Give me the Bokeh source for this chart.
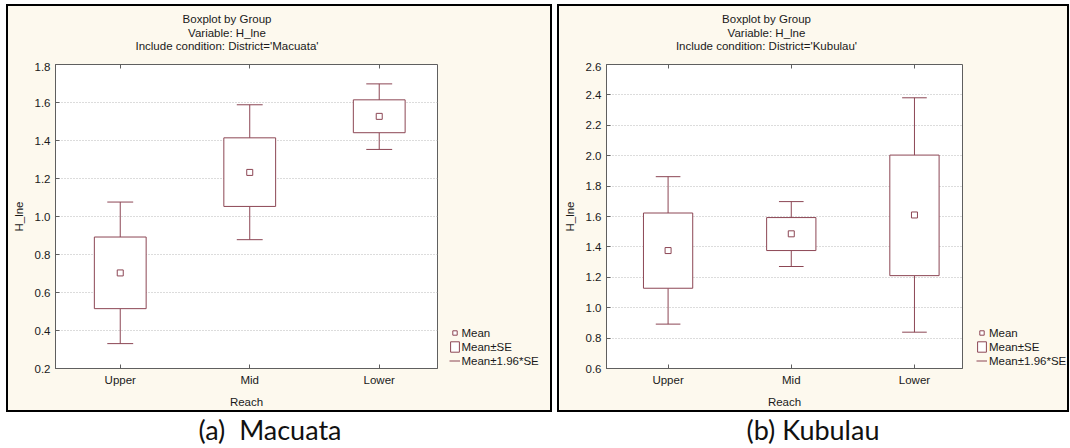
from bokeh.plotting import figure
from bokeh.models import (Range1d, FixedTicker, Legend, LegendItem, LinearAxis,
                          Div, ColumnDataSource, PrintfTickFormatter)
from bokeh.layouts import row, column
from bokeh.embed import file_html
from bokeh.resources import INLINE

# ---------------- data ----------------
reach = ["Upper", "Mid", "Lower"]
reach_pos = [1, 2, 3]

mac_mean = [0.703, 1.232, 1.527]
mac_se_lo = [0.515, 1.053, 1.441]
mac_se_hi = [0.892, 1.414, 1.614]
mac_ci_lo = [0.331, 0.878, 1.353]
mac_ci_hi = [1.076, 1.588, 1.698]

kub_mean = [1.376, 1.486, 1.610]
kub_se_lo = [1.128, 1.376, 1.211]
kub_se_hi = [1.623, 1.593, 2.004]
kub_ci_lo = [0.892, 1.271, 0.839]
kub_ci_hi = [1.862, 1.698, 2.381]

mac_yticks = [0.2, 0.4, 0.6, 0.8, 1.0, 1.2, 1.4, 1.6, 1.8]
kub_yticks = [0.6, 0.8, 1.0, 1.2, 1.4, 1.6, 1.8, 2.0, 2.2, 2.4, 2.6]

legend_labels = ["Mean", "Mean\u00b1SE", "Mean\u00b11.96*SE"]

# ---------------- styling ----------------
FONT = "Liberation Sans"
FS = "11.5px"
TXT = "#1a1a1a"
BOX = "#8c4654"
PANEL_BG = "#fdf9ee"
FRAME = "#5f5f5f"
TITLE_H = 56
FIG_H = 348


def add_glyphs(p, src, visible=True):
    box = p.quad(left="left", right="right", bottom="se_lo", top="se_hi", source=src,
                 fill_color="white", line_color=BOX, line_width=1, visible=visible)
    stem_hi = p.segment(x0="x", y0="se_hi", x1="x", y1="ci_hi", source=src,
                        line_color=BOX, line_width=1, visible=visible)
    mean_r = p.scatter(x="x", y="mean", source=src, marker="square", size=6,
                       fill_color="white", line_color=BOX, line_width=1, visible=visible)
    return box, stem_hi, mean_r


def make_panel(district, mean, se_lo, se_hi, ci_lo, ci_hi, yticks,
               W, MW, frame_w, x_end, title_w, legend_x):
    src = ColumnDataSource(dict(
        x=reach_pos, mean=mean, se_lo=se_lo, se_hi=se_hi, ci_lo=ci_lo, ci_hi=ci_hi,
        left=[v - 0.2 for v in reach_pos], right=[v + 0.2 for v in reach_pos],
        cl=[v - 0.1 for v in reach_pos], cr=[v + 0.1 for v in reach_pos],
    ))
    p = figure(width=MW, height=FIG_H, x_range=Range1d(0.5, x_end),
               y_range=Range1d(yticks[0], yticks[-1]),
               output_backend="svg", toolbar_location=None,
               min_border_left=47, min_border_right=MW - 47 - frame_w,
               min_border_top=2, min_border_bottom=FIG_H - 2 - 304,
               background_fill_color="white", border_fill_color=PANEL_BG,
               outline_line_color=FRAME, outline_line_width=1,
               x_axis_label="Reach", y_axis_label="H_lne")

    p.segment(x0="x", y0="ci_lo", x1="x", y1="se_lo", source=src,
              line_color=BOX, line_width=1)
    p.segment(x0="cl", y0="ci_hi", x1="cr", y1="ci_hi", source=src,
              line_color=BOX, line_width=1)
    p.segment(x0="cl", y0="ci_lo", x1="cr", y1="ci_lo", source=src,
              line_color=BOX, line_width=1)
    add_glyphs(p, src)

    xa = p.xaxis[0]
    xa.ticker = FixedTicker(ticks=reach_pos)
    xa.major_label_overrides = {v: n for v, n in zip(reach_pos, reach)}
    ya = p.yaxis[0]
    ya.ticker = FixedTicker(ticks=yticks)
    ya.formatter = PrintfTickFormatter(format="%.1f")
    for ax in (xa, ya):
        ax.major_label_text_font = FONT
        ax.major_label_text_font_size = FS
        ax.major_label_text_color = TXT
        ax.axis_label_text_font = FONT
        ax.axis_label_text_font_size = FS
        ax.axis_label_text_font_style = "normal"
        ax.axis_label_text_color = TXT
        ax.axis_line_color = FRAME
        ax.major_tick_line_color = FRAME
        ax.major_tick_in = 4
        ax.major_tick_out = 0
        ax.minor_tick_line_color = None
        ax.major_label_standoff = 5
        ax.axis_label_standoff = 7

    top = LinearAxis(ticker=FixedTicker(ticks=reach_pos),
                     major_label_overrides={v: "" for v in reach_pos},
                     major_label_standoff=0, axis_line_color=None,
                     major_tick_in=4, major_tick_out=0, major_tick_line_color=FRAME,
                     minor_tick_line_color=None)
    p.add_layout(top, "above")

    p.xgrid.grid_line_color = None
    p.ygrid.grid_line_color = "#b8b8b8"
    p.ygrid.grid_line_dash = "1 2"
    p.ygrid.grid_line_width = 1

    # legend lives in a narrow companion figure to the right of the plot
    lf = figure(width=W - MW, height=FIG_H, x_range=Range1d(0, 1), y_range=Range1d(0, 1),
                x_axis_type=None, y_axis_type=None, output_backend="svg",
                toolbar_location=None, min_border=0, min_border_left=0,
                min_border_right=0, min_border_top=0, min_border_bottom=0,
                outline_line_color=None, background_fill_color=PANEL_BG,
                border_fill_color=PANEL_BG)
    lbox, lstem, lmean = add_glyphs(lf, src, visible=False)
    legend = Legend(items=[LegendItem(label=legend_labels[0], renderers=[lmean]),
                           LegendItem(label=legend_labels[1], renderers=[lbox]),
                           LegendItem(label=legend_labels[2], renderers=[lstem])],
                    location=(legend_x, 1), margin=0, padding=0, spacing=1,
                    glyph_width=11, glyph_height=13, label_height=13, label_standoff=2,
                    label_text_font=FONT, label_text_font_size=FS, label_text_color=TXT,
                    border_line_alpha=0, background_fill_alpha=0)
    lf.add_layout(legend)

    title_html = ('<div style="width:%dpx;text-align:center;font-family:\'Liberation Sans\';'
                  'font-size:11.5px;line-height:13.5px;color:%s;padding-top:7px;">'
                  'Boxplot by Group<br>Variable: H_lne<br>'
                  'Include condition: District=\'%s\'</div>') % (title_w, TXT, district)
    titles = Div(text=title_html, width=W, height=TITLE_H, margin=0)

    return column(titles, row(p, lf), width=W,
                  styles={"border": "2px solid black", "box-sizing": "content-box",
                          "background-color": PANEL_BG})


panel1 = make_panel("Macuata", mac_mean, mac_se_lo, mac_se_hi, mac_ci_lo, mac_ci_hi,
                    mac_yticks, W=542, MW=437, frame_w=382, x_end=3.45,
                    title_w=438, legend_x=3.5)
panel2 = make_panel("Kubulau", kub_mean, kub_se_lo, kub_se_hi, kub_ci_lo, kub_ci_hi,
                    kub_yticks, W=508, MW=411, frame_w=356, x_end=3.39,
                    title_w=415, legend_x=6)
panel1.margin = (4, 0, 0, 6)
panel2.margin = (4, 0, 0, 5)

cap_style = "text-align:center;font-family:Lato;font-size:27px;color:#111;line-height:30px;"
cap1 = Div(text='<div style="width:528px;%s">(a)&nbsp;&nbsp;Macuata</div>' % cap_style,
           width=546, height=32, margin=(3, 0, 0, 6))
cap2 = Div(text='<div style="width:512px;%s">(b) Kubulau</div>' % cap_style,
           width=512, height=32, margin=(3, 0, 0, 5))

layout = row(column(panel1, cap1), column(panel2, cap2))

open("out.html", "w").write(file_html(layout, INLINE))
